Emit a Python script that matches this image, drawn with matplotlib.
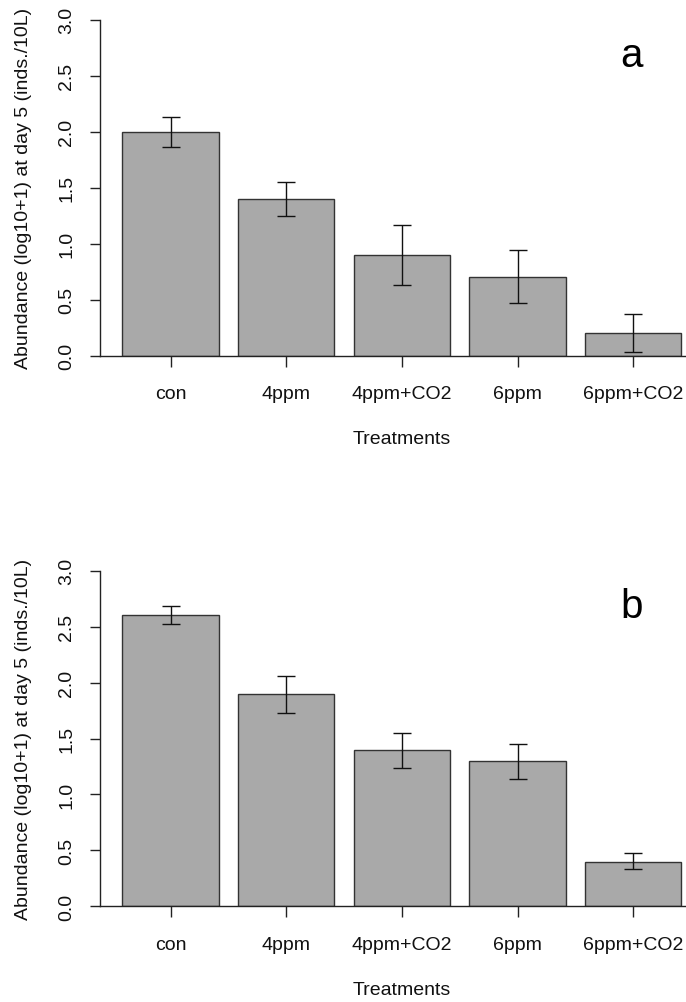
import matplotlib
matplotlib.use('Agg')
import matplotlib.pyplot as plt
import numpy as np

# ---- data ----
categories = ['con', '4ppm', '4ppm+CO2', '6ppm', '6ppm+CO2']
means_a = [2.0, 1.4, 0.9, 0.7, 0.2]
err_low_a = [1.86, 1.25, 0.63, 0.47, 0.03]
err_high_a = [2.13, 1.55, 1.17, 0.94, 0.37]
means_b = [2.6, 1.9, 1.4, 1.3, 0.4]
err_low_b = [2.52, 1.73, 1.24, 1.14, 0.33]
err_high_b = [2.68, 2.06, 1.55, 1.45, 0.48]
panel_labels = ['a', 'b']
y_ticks = [0.0, 0.5, 1.0, 1.5, 2.0, 2.5, 3.0]
y_ticklabels = ['0.0', '0.5', '1.0', '1.5', '2.0', '2.5', '3.0']
xlabel = 'Treatments'
ylabel = 'Abundance (log10+1) at day 5 (inds./10L)'

plt.rcParams['font.family'] = ['Liberation Sans', 'DejaVu Sans']

W, H = 686, 1003
fig = plt.figure(figsize=(W / 100, H / 100), dpi=100)

line_col = '#222222'
text_col = '#111111'
bar_col = '#A9A9A9'

# axes pixel geometry (R barplot style: width 1, space 0.2)
left_px = 100.0
px_per_unit = 96.4
xlim = (-0.032, 6.232)
width_px = (xlim[1] - xlim[0]) * px_per_unit
panels = [
    (means_a, err_low_a, err_high_a, 20.7, 356.7),
    (means_b, err_low_b, err_high_b, 571.7, 907.3),
]

x = 0.7 + 1.2 * np.arange(len(categories))

for (means, lo, hi, top_px, bot_px), lab in zip(panels, panel_labels):
    ax = fig.add_axes([left_px / W, 1 - bot_px / H, width_px / W, (bot_px - top_px) / H])
    means = np.array(means)
    lo = np.array(lo)
    hi = np.array(hi)
    ax.bar(x, means, width=1.0, color=bar_col, edgecolor='#333333', linewidth=1.0, zorder=2)
    ax.errorbar(x, means, yerr=[means - lo, hi - means], fmt='none', ecolor='#111111',
                elinewidth=1.0, capsize=6.8, capthick=1.0, zorder=3)
    ax.set_xlim(*xlim)
    ax.set_ylim(0, 3.0)
    for s in ['top', 'right']:
        ax.spines[s].set_visible(False)
    ax.spines['left'].set_bounds(0, 3.0)
    for s in ['left', 'bottom']:
        ax.spines[s].set_color(line_col)
        ax.spines[s].set_linewidth(1.0)
    ax.set_xticks(x)
    ax.set_xticklabels(categories, fontsize=14, color=text_col)
    ax.set_yticks(y_ticks)
    ax.set_yticklabels(y_ticklabels, fontsize=14, color=text_col, rotation=90, va='center')
    ax.tick_params(axis='x', length=7.7, width=1.0, color=line_col, pad=13.5)
    ax.tick_params(axis='y', length=7.2, width=1.0, color=line_col, pad=10.5)
    ax.set_xlabel(xlabel, fontsize=14, color=text_col, labelpad=20)
    ax.set_ylabel(ylabel, fontsize=14, color=text_col, labelpad=19)
    ax.text(5.48, 2.589, lab, fontsize=29, color='black', ha='center', va='baseline')
    ax.patch.set_alpha(0)

fig.savefig('out.png', dpi=100, facecolor='white')
